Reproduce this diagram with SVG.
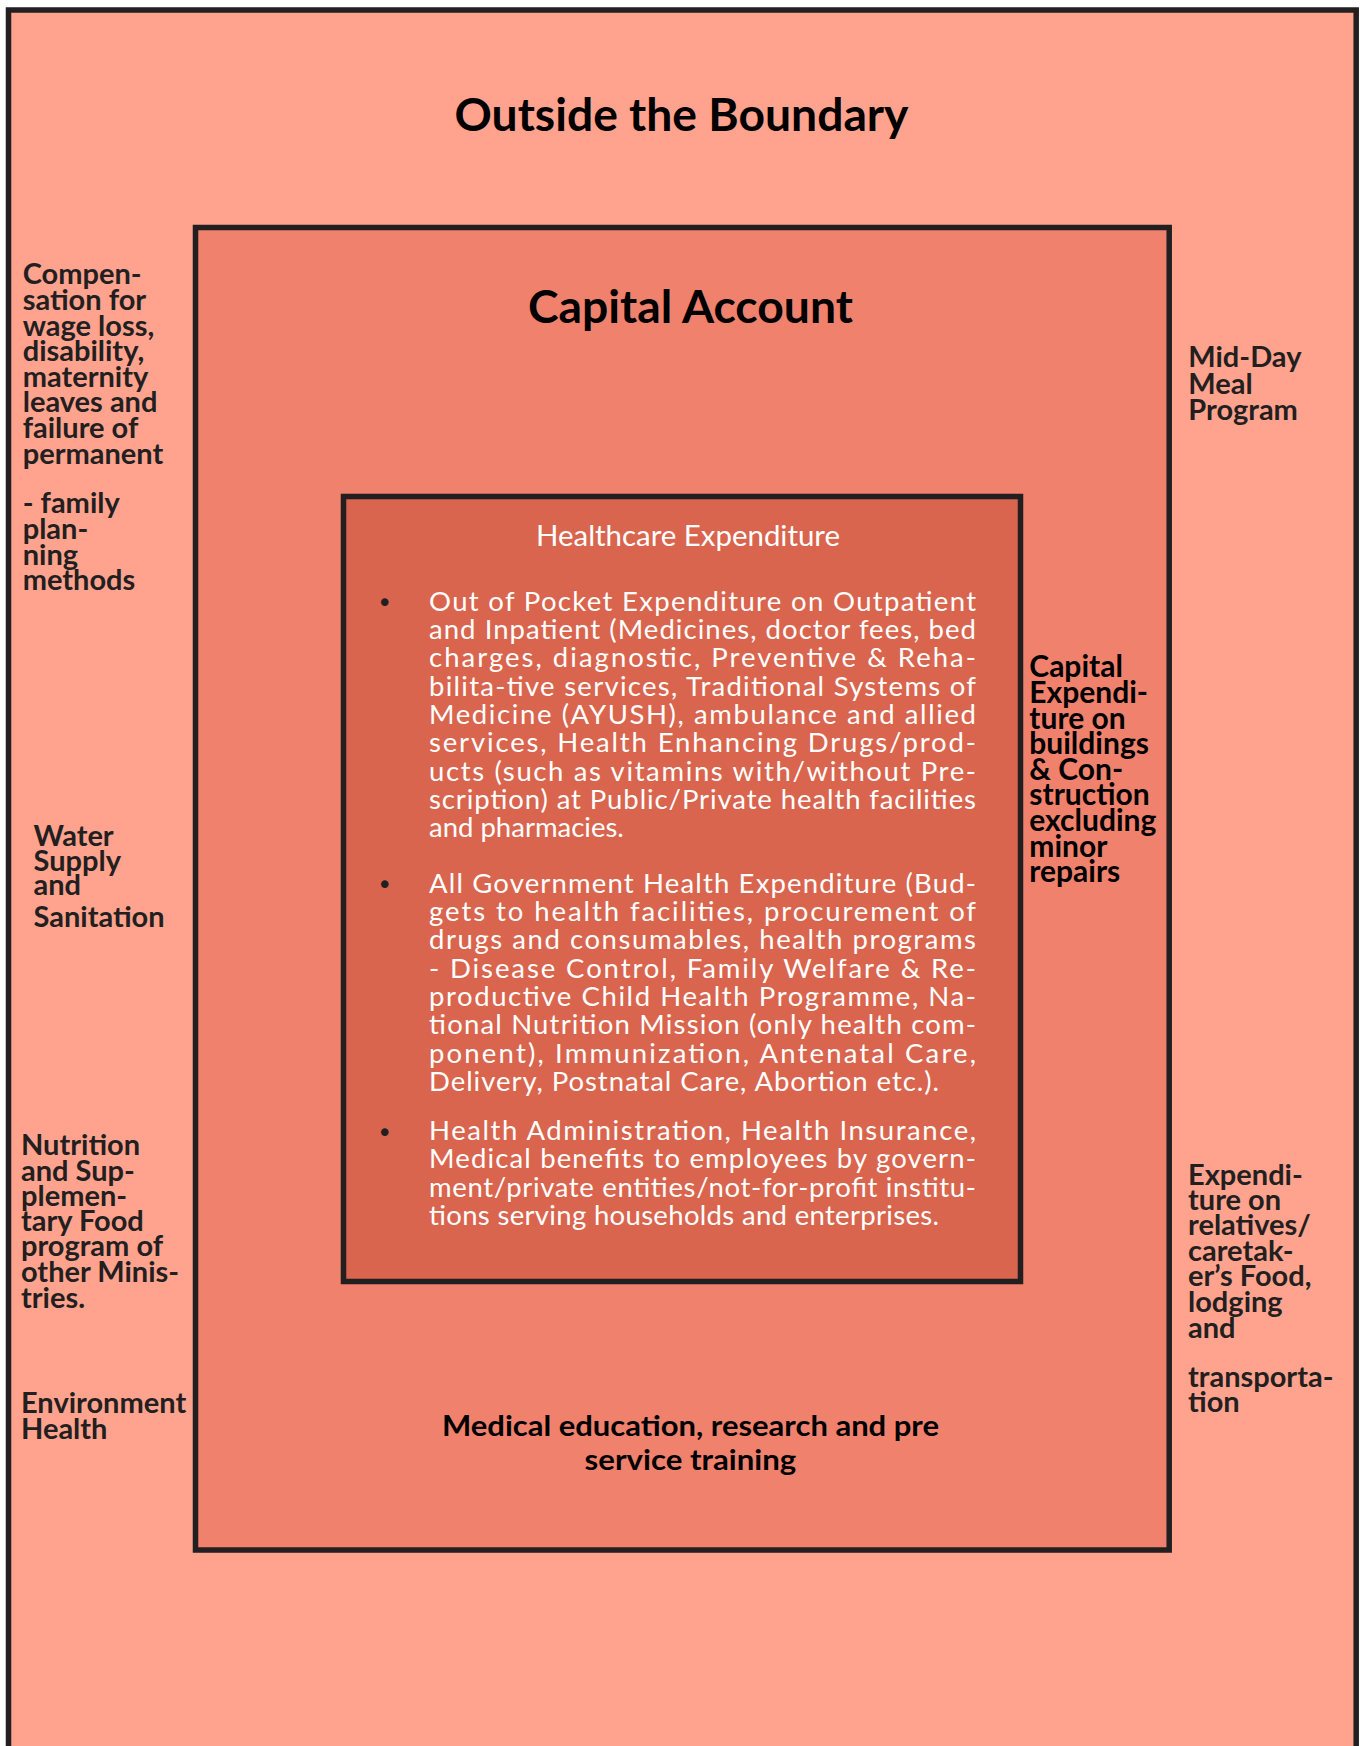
<svg xmlns="http://www.w3.org/2000/svg" width="1363" height="1746" viewBox="0 0 1363 1746">
<style>
.box{stroke:#231f20;stroke-width:5.5}
.title{font-family:Lato,'Open Sans',sans-serif;font-weight:700;fill:#000;text-anchor:middle}
.lbl{font-family:Lato,'Open Sans',sans-serif;font-weight:700;font-size:29px;fill:#231f20}
.lblk{font-family:Lato,'Open Sans',sans-serif;font-weight:700;font-size:30px;fill:#000}
.body{font-family:Lato,'Open Sans',sans-serif;font-size:27.5px;fill:#fff}
.bul{font-family:'DejaVu Sans',sans-serif;font-size:26px;fill:#231f20}
</style>
<rect width="1363" height="1746" fill="#fff"/>
<g id="outside">
<rect class="box" x="8.5" y="10" width="1347.7" height="1770" fill="#ffa38e"/>
<text class="title" x="681.5" y="131" font-size="46" textLength="454" lengthAdjust="spacingAndGlyphs">Outside the Boundary</text>
</g>
<g id="capital-account">
<rect class="box" x="195.5" y="227.5" width="973.7" height="1322.5" fill="#f0826d"/>
<text class="title" x="690.4" y="323" font-size="46" textLength="325" lengthAdjust="spacingAndGlyphs">Capital Account</text>
</g>
<g id="healthcare-expenditure">
<rect class="box" x="343.5" y="496.5" width="677" height="785" fill="#d9654e"/>
<text x="688" y="545.7" font-family="Lato,'Open Sans',sans-serif" font-size="28" fill="#fff" text-anchor="middle" textLength="304" lengthAdjust="spacingAndGlyphs">Healthcare Expenditure</text>
<text class="bul" x="377" y="612">•</text>
<text class="bul" x="377" y="894">•</text>
<text class="bul" x="377" y="1141.5">•</text>
<g class="body">
<text x="429" y="610.5" textLength="547" lengthAdjust="spacing">Out of Pocket Expenditure on Outpatient</text>
<text x="429" y="638.9" textLength="547" lengthAdjust="spacing">and Inpatient (Medicines, doctor fees, bed</text>
<text x="429" y="667.2" textLength="547" lengthAdjust="spacing">charges, diagnostic, Preventive &amp; Reha-</text>
<text x="429" y="695.6" textLength="547" lengthAdjust="spacing">bilita-tive services, Traditional Systems of</text>
<text x="429" y="723.9" textLength="547" lengthAdjust="spacing">Medicine (AYUSH), ambulance and allied</text>
<text x="429" y="752.3" textLength="547" lengthAdjust="spacing">services, Health Enhancing Drugs/prod-</text>
<text x="429" y="780.6" textLength="547" lengthAdjust="spacing">ucts (such as vitamins with/without Pre-</text>
<text x="429" y="809" textLength="547" lengthAdjust="spacing">scription) at Public/Private health facilities</text>
<text x="429" y="837.3">and pharmacies.</text>
<text x="429" y="892.5" textLength="547" lengthAdjust="spacing">All Government Health Expenditure (Bud-</text>
<text x="429" y="920.8" textLength="547" lengthAdjust="spacing">gets to health facilities, procurement of</text>
<text x="429" y="949.2" textLength="547" lengthAdjust="spacing">drugs and consumables, health programs</text>
<text x="429" y="977.5" textLength="547" lengthAdjust="spacing">- Disease Control, Family Welfare &amp; Re-</text>
<text x="429" y="1005.9" textLength="547" lengthAdjust="spacing">productive Child Health Programme, Na-</text>
<text x="429" y="1034.2" textLength="547" lengthAdjust="spacing">tional Nutrition Mission (only health com-</text>
<text x="429" y="1062.6" textLength="547" lengthAdjust="spacing">ponent), Immunization, Antenatal Care,</text>
<text x="429" y="1090.9" textLength="510" lengthAdjust="spacing">Delivery, Postnatal Care, Abortion etc.).</text>
<text x="429" y="1140" textLength="547" lengthAdjust="spacing">Health Administration, Health Insurance,</text>
<text x="429" y="1168.3" textLength="547" lengthAdjust="spacing">Medical benefits to employees by govern-</text>
<text x="429" y="1196.6" textLength="547" lengthAdjust="spacing">ment/private entities/not-for-profit institu-</text>
<text x="429" y="1225" textLength="510" lengthAdjust="spacing">tions serving households and enterprises.</text>
</g>
</g>
<g id="compensation">
<text class="lbl"><tspan x="22.7" y="284.3">Compen-</tspan><tspan x="22.7" y="309.9">sation for</tspan><tspan x="22.7" y="335.5">wage loss,</tspan><tspan x="22.7" y="361.1">disability,</tspan><tspan x="22.7" y="386.7">maternity</tspan><tspan x="22.7" y="412.3">leaves and</tspan><tspan x="22.7" y="437.9">failure of</tspan><tspan x="22.7" y="463.5">permanent</tspan></text>
<text class="lbl"><tspan x="22.7" y="513.3">- family</tspan><tspan x="22.7" y="539">plan-</tspan><tspan x="22.7" y="564.7">ning</tspan><tspan x="22.7" y="590.4">methods</tspan></text>
</g>
<g id="water-supply">
<text class="lbl"><tspan x="33.5" y="846">Water</tspan><tspan x="33.5" y="871">Supply</tspan><tspan x="33.5" y="895">and</tspan><tspan x="33.5" y="926.5">Sanitation</tspan></text>
</g>
<g id="nutrition">
<text class="lbl"><tspan x="21" y="1155">Nutrition</tspan><tspan x="21" y="1180.5">and Sup-</tspan><tspan x="21" y="1205.5">plemen-</tspan><tspan x="21" y="1230.6">tary Food</tspan><tspan x="21" y="1256">program of</tspan><tspan x="21" y="1282">other Minis-</tspan><tspan x="21" y="1307.5">tries.</tspan></text>
</g>
<g id="environment-health">
<text class="lbl"><tspan x="21" y="1413">Environment</tspan><tspan x="21" y="1439">Health</tspan></text>
</g>
<g id="mid-day-meal">
<text class="lbl"><tspan x="1188.3" y="367">Mid-Day</tspan><tspan x="1188.3" y="393.5">Meal</tspan><tspan x="1188.3" y="420">Program</tspan></text>
</g>
<g id="capital-expenditure">
<text class="lblk"><tspan x="1029.3" y="677.3">Capital</tspan><tspan x="1029.3" y="703">Expendi-</tspan><tspan x="1029.3" y="728.6">ture on</tspan><tspan x="1029.3" y="754.2">buildings</tspan><tspan x="1029.3" y="779.8">&amp; Con-</tspan><tspan x="1029.3" y="805.4">struction</tspan><tspan x="1029.3" y="831">excluding</tspan><tspan x="1029.3" y="856.6">minor</tspan><tspan x="1029.3" y="882.2">repairs</tspan></text>
</g>
<g id="relatives-expenditure">
<text class="lbl"><tspan x="1188" y="1185">Expendi-</tspan><tspan x="1188" y="1209.5">ture on</tspan><tspan x="1188" y="1235">relatives/</tspan><tspan x="1188" y="1260.7">caretak-</tspan><tspan x="1188" y="1286.3">er’s Food,</tspan><tspan x="1188" y="1312">lodging</tspan><tspan x="1188" y="1337.5">and</tspan></text>
<text class="lbl"><tspan x="1188" y="1386.5">transporta-</tspan><tspan x="1188" y="1412">tion</tspan></text>
</g>
<g id="medical-education">
<text class="title" x="690.5" y="1435.5" font-size="28" textLength="497" lengthAdjust="spacingAndGlyphs">Medical education, research and pre</text>
<text class="title" x="690.4" y="1470" font-size="28" textLength="211.6" lengthAdjust="spacingAndGlyphs">service training</text>
</g>
<g id="connectors"/>
</svg>
